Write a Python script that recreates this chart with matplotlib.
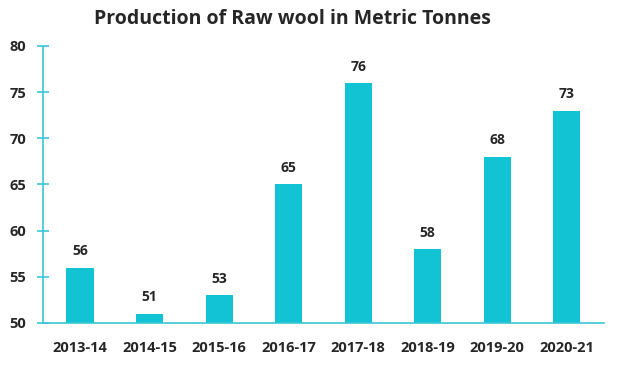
import matplotlib
matplotlib.use("Agg")
import matplotlib.pyplot as plt

years = ["2013-14", "2014-15", "2015-16", "2016-17", "2017-18", "2018-19", "2019-20", "2020-21"]
production = [56, 51, 53, 65, 76, 58, 68, 73]
yticks = [50, 55, 60, 65, 70, 75, 80]

bar_color = "#12C3D4"
axis_color = "#3CC6D6"
text_color = "#262626"

plt.rcParams['font.family'] = ['Open Sans', 'DejaVu Sans']

fig = plt.figure(figsize=(6.25, 3.67), dpi=100)
ax = fig.add_axes([0.069, 0.12, 0.897, 0.755])

x = range(len(years))
ax.bar(x, production, width=0.39, color=bar_color)
for i, v in zip(x, production):
    ax.text(i, v + 1.0, str(v), ha="center", va="bottom", fontsize=10,
            fontweight="bold", color=text_color)

ax.set_ylim(50, 80)
ax.set_xlim(-0.53, len(years) - 0.47)
ax.set_yticks(yticks)
ax.set_xticks(list(x))
ax.set_xticklabels(years)

for s in ["top", "right"]:
    ax.spines[s].set_visible(False)
for s in ["left", "bottom"]:
    ax.spines[s].set_color(axis_color)
    ax.spines[s].set_linewidth(1.2)

ax.tick_params(axis="y", direction="inout", length=8, color=axis_color, width=1.2,
               labelsize=10.5, labelcolor=text_color, pad=8)
ax.tick_params(axis="x", length=0, labelsize=10.5, labelcolor=text_color, pad=13)
for lab in ax.get_xticklabels() + ax.get_yticklabels():
    lab.set_fontweight("bold")

fig.text(0.468, 0.948, "Production of Raw wool in Metric Tonnes", ha="center", va="center",
         fontsize=14, fontweight="bold", color=text_color)

fig.savefig("out.png", dpi=100)
